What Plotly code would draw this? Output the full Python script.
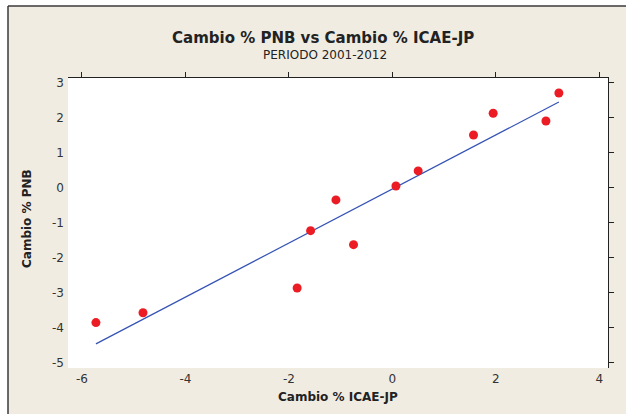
import numpy as np
import plotly.graph_objects as go

# Annual % change, 2001-2012
icae_jp = [-5.73, -4.82, -1.84, -1.58, -1.09, -0.75, 0.07, 0.50, 1.57, 1.95, 2.97, 3.22]
pnb = [-3.86, -3.58, -2.87, -1.23, -0.35, -1.63, 0.05, 0.48, 1.51, 2.13, 1.91, 2.71]

x_ticks = [-6, -4, -2, 0, 2, 4]
x_labels = ["-6", "-4", "-2", "0", "2", "4"]
y_ticks = [-5, -4, -3, -2, -1, 0, 1, 2, 3]
y_labels = ["-5", "-4", "-3", "-2", "-1", "0", "1", "2", "3"]

# Least-squares fit line
slope, intercept = np.polyfit(icae_jp, pnb, 1)
fit_x = [min(icae_jp), max(icae_jp)]
fit_y = [slope * v + intercept for v in fit_x]

FONT = "DejaVu Sans"
BEIGE = "#F0ECE2"
X_RANGE = [-6.27, 4.17]
Y_RANGE = [-5.16, 3.14]

fig = go.Figure()
fig.add_trace(go.Scatter(x=fit_x, y=fit_y, mode="lines",
                         line=dict(color="#3553B5", width=1.2),
                         showlegend=False, hoverinfo="skip"))
fig.add_trace(go.Scatter(x=icae_jp, y=pnb, mode="markers",
                         marker=dict(color="#EC1C24", size=9, line=dict(width=0)),
                         showlegend=False))
# carrier trace for the top/right tick axes
fig.add_trace(go.Scatter(x=[None], y=[None], xaxis="x2", yaxis="y2",
                         showlegend=False, hoverinfo="skip"))

W, H = 626, 414
L, R, T, B = 68, 18, 78, 46
pw, ph = W - L - R, H - T - B

def px_x(p):
    return (p - L) / pw

def px_y(p):
    return (H - B - p) / ph

tick_font = dict(family=FONT, size=12, color="#333333")
frame = "#3a3a3a"

fig.update_layout(
    width=W, height=H,
    margin=dict(l=L, r=R, t=T, b=B, pad=0),
    paper_bgcolor=BEIGE,
    plot_bgcolor="white",
    font=dict(family=FONT, size=12, color="#333333"),
    xaxis=dict(range=X_RANGE, tickvals=x_ticks, ticktext=x_labels, ticks="",
               showline=False, showgrid=False, zeroline=False,
               ticklabelstandoff=2, tickfont=tick_font),
    yaxis=dict(range=Y_RANGE, tickvals=y_ticks, ticktext=y_labels, ticks="",
               showline=False, showgrid=False, zeroline=False,
               ticklabelstandoff=3, tickfont=tick_font),
    xaxis2=dict(range=X_RANGE, tickvals=x_ticks, overlaying="x", side="top",
                ticks="outside", ticklen=5, tickwidth=1, tickcolor="#222222",
                showline=True, linecolor="#222222", linewidth=1,
                showticklabels=False, showgrid=False, zeroline=False),
    yaxis2=dict(range=Y_RANGE, tickvals=y_ticks, overlaying="y", side="right",
                ticks="outside", ticklen=5, tickwidth=1, tickcolor="#222222",
                showline=True, linecolor="#222222", linewidth=1,
                showticklabels=False, showgrid=False, zeroline=False),
    shapes=[
        # white margin outside the panel (left strip and top strip)
        dict(type="rect", xref="paper", yref="paper", layer="below",
             x0=px_x(-20), x1=px_x(8), y0=px_y(H + 20), y1=px_y(-20),
             fillcolor="white", line=dict(width=0)),
        dict(type="rect", xref="paper", yref="paper", layer="below",
             x0=px_x(-20), x1=px_x(W + 20), y0=px_y(6), y1=px_y(-20),
             fillcolor="white", line=dict(width=0)),
        # panel border, top and left
        dict(type="line", xref="paper", yref="paper", layer="below",
             x0=px_x(8), x1=px_x(8), y0=px_y(H + 20), y1=px_y(6),
             line=dict(color=frame, width=1.5)),
        dict(type="line", xref="paper", yref="paper", layer="below",
             x0=px_x(8), x1=px_x(W + 20), y0=px_y(6), y1=px_y(6),
             line=dict(color=frame, width=1.5)),
    ],
    annotations=[
        dict(text="<b>Cambio % PNB vs Cambio % ICAE-JP</b>", xref="paper", yref="paper",
             x=px_x(323), y=px_y(38), xanchor="center", yanchor="middle",
             showarrow=False, font=dict(family=FONT, size=15, color="#222222")),
        dict(text="PERIODO 2001-2012", xref="paper", yref="paper",
             x=px_x(325), y=px_y(55), xanchor="center", yanchor="middle",
             showarrow=False, font=dict(family=FONT, size=12, color="#222222")),
        dict(text="<b>Cambio % ICAE-JP</b>", xref="paper", yref="paper",
             x=px_x(338), y=px_y(397), xanchor="center", yanchor="middle",
             showarrow=False, font=dict(family=FONT, size=12, color="#222222")),
        dict(text="<b>Cambio % PNB</b>", xref="paper", yref="paper",
             x=px_x(27), y=px_y(219), xanchor="center", yanchor="middle",
             showarrow=False, textangle=-90,
             font=dict(family=FONT, size=12, color="#222222")),
    ],
)

fig.write_html("out.html")
